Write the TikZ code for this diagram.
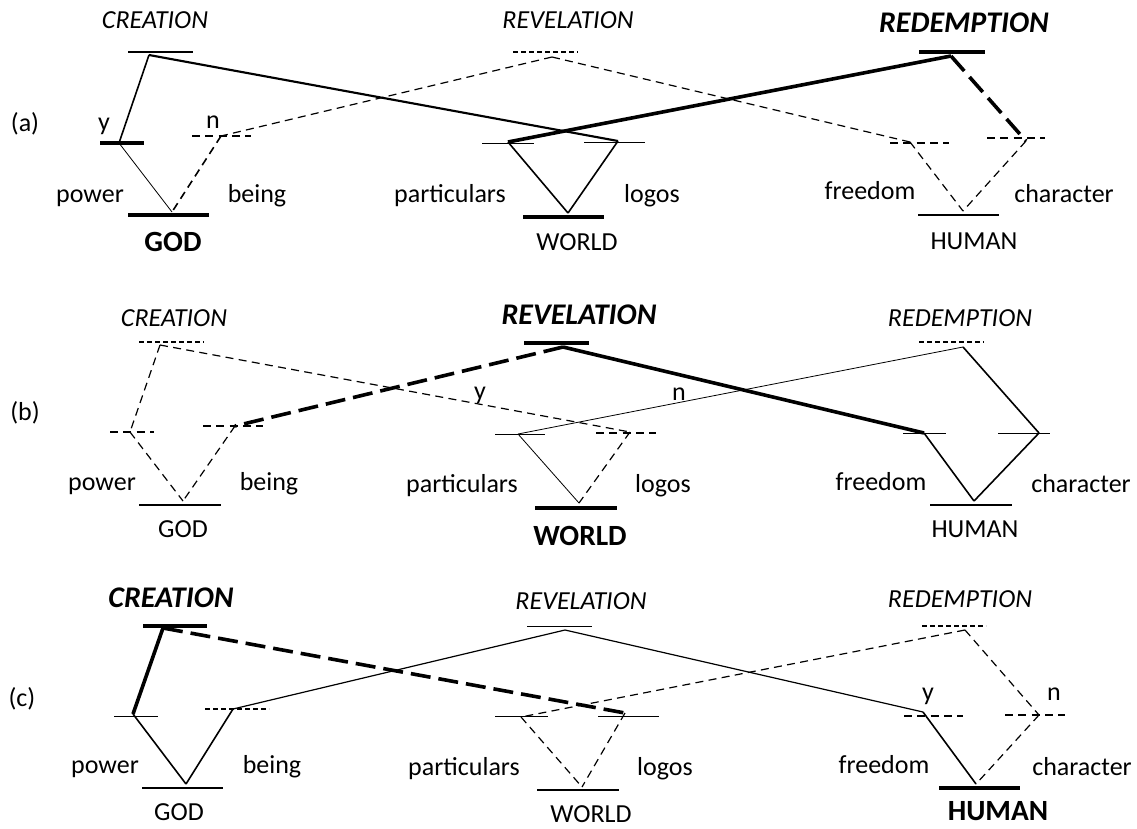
\documentclass[tikz,border=0pt]{standalone}
\usepackage{fontspec}
\setmainfont{Carlito}
\begin{document}
\fontsize{19.5}{23}\selectfont
\begin{tikzpicture}[x=0.75pt,y=0.75pt,yscale=-1,xscale=1,
  thinln/.style={line width=0.6pt},
  medln/.style={line width=1.2pt},
  thkln/.style={line width=2.7pt},
  dsh/.style={line width=0.9pt,dash pattern=on 6pt off 4pt},
  sdsh/.style={line width=0.9pt,dash pattern=on 3.5pt off 2.5pt},
  ldsh/.style={dash pattern=on 15pt off 6pt},
  lbl/.style={anchor=base,inner sep=0pt},
  toplbl/.style={lbl,font=\itshape},
  focuslbl/.style={lbl,font=\fontsize{22.5}{27}\selectfont\bfseries\itshape},
  boldlbl/.style={lbl,font=\fontsize{22}{26}\selectfont\bfseries}]
\useasboundingbox (0,0) rectangle (1137,828);

%%%%%%%%%%%%%%%%%%%%%%%% (a)
\coordinate (aCre) at (149,55);
\coordinate (aPow) at (119,143);
\coordinate (aBei) at (221,136);
\coordinate (aGod) at (172,212);
\coordinate (aRev) at (552,57);
\coordinate (aPar) at (508,142);
\coordinate (aLog) at (618,141);
\coordinate (aWor) at (568,213);
\coordinate (aRed) at (951,56);
\coordinate (aFre) at (910,142);
\coordinate (aCha) at (1026,141);
\coordinate (aHum) at (963,211);

%Straight Lines (bars)
\draw [medln] (aCre) ++(-21,-3) -- ++(65,0);
\draw [thkln] (aPow) ++(-19,0) -- ++(44,0);
\draw [dsh] (aBei) ++(-29,0) -- ++(59,0);
\draw [thkln] (aGod) ++(-44,3) -- ++(81,0);
\draw [sdsh] (aRev) ++(-39,-5) -- ++(65,0);
\draw [thinln] (aPar) ++(-26,1) -- ++(52,0);
\draw [thinln] (aLog) ++(-34,1.5) -- ++(61,0);
\draw [thkln] (aWor) ++(-45,4) -- ++(81,0);
\draw [thkln] (aRed) ++(-32,-4) -- ++(66,0);
\draw [dsh] (aFre) ++(-20,1) -- ++(59,0);
\draw [dsh] (aCha) ++(-39,-3) -- ++(58,0);
\draw [medln] (aHum) ++(-45,4) -- ++(81,0);

%Straight Lines (links)
\draw [medln] (aCre) -- (aPow);
\draw [medln,line width=1.6pt] (aCre) -- (aLog);
\draw [thinln] (aPow) -- (aGod);
\draw [dsh,line width=1.2pt] (aBei) -- (aGod);
\draw [dsh] (aRev) -- (aBei);
\draw [dsh] (aRev) -- (aFre);
\draw [medln] (aPar) -- (aWor);
\draw [medln] (aLog) -- (aWor);
\draw [thkln] (aRed) -- (aPar);
\draw [thkln,ldsh] (aRed) -- (aCha);
\draw [dsh] (aFre) -- (aHum);
\draw [dsh] (aCha) -- (aHum);

% Text Node
\node [lbl] (aTag) at (25,131) {(a)};
\node [toplbl] (aCreL) at (155,28) {CREATION};
\node [toplbl] (aRevL) at (568,28) {REVELATION};
\node [focuslbl] (aRedL) at (964,32) {REDEMPTION};
\node [lbl] (aYes) at (104,130) {y};
\node [lbl] (aNo) at (213,128) {n};
\node [lbl] (aPowL) at (90,202) {power};
\node [lbl] (aBeiL) at (257,202) {being};
\node [boldlbl] (aGodL) at (173,251) {GOD};
\node [lbl] (aParL) at (450,202) {particulars};
\node [lbl] (aLogL) at (652,202) {logos};
\node [lbl] (aWorL) at (577,250) {WORLD};
\node [lbl] (aFreL) at (870,199) {freedom};
\node [lbl] (aChaL) at (1064,202) {character};
\node [lbl] (aHumL) at (974,249) {HUMAN};

%%%%%%%%%%%%%%%%%%%%%%%% (b)
\coordinate (bCre) at (160,345);
\coordinate (bPow) at (130,432);
\coordinate (bBei) at (235,426);
\coordinate (bGod) at (183,501);
\coordinate (bRev) at (563,347);
\coordinate (bPar) at (518,434);
\coordinate (bLog) at (630,432);
\coordinate (bWor) at (579,503);
\coordinate (bRed) at (963,347);
\coordinate (bFre) at (924,433);
\coordinate (bCha) at (1039,433);
\coordinate (bHum) at (974,501);

%Straight Lines (bars)
\draw [sdsh] (bCre) ++(-21,-3) -- ++(65,0);
\draw [dsh] (bPow) ++(-20,0) -- ++(44,0);
\draw [dsh] (bBei) ++(-32,0) -- ++(60,0);
\draw [medln] (bGod) ++(-44,4) -- ++(82,0);
\draw [thkln] (bRev) ++(-39,-4) -- ++(65,0);
\draw [thinln] (bPar) ++(-23,0) -- ++(50,0);
\draw [dsh] (bLog) ++(-34,1) -- ++(60,0);
\draw [thkln] (bWor) ++(-44,5) -- ++(82,0);
\draw [sdsh] (bRed) ++(-44,-5) -- ++(65,0);
\draw [thinln] (bFre) ++(-21,0) -- ++(43,0);
\draw [thinln] (bCha) ++(-41,0) -- ++(52,0);
\draw [medln] (bHum) ++(-44,4) -- ++(82,0);

%Straight Lines (links)
\draw [dsh] (bCre) -- (bPow);
\draw [dsh] (bCre) -- (bLog);
\draw [dsh] (bPow) -- (bGod);
\draw [dsh] (bBei) -- (bGod);
\draw [thkln,ldsh] (bRev) -- (bBei);
\draw [thkln] (bRev) -- (bFre);
\draw [thinln] (bPar) -- (bWor);
\draw [dsh] (bLog) -- (bWor);
\draw [thinln] (bRed) -- (bPar);
\draw [medln] (bRed) -- (bCha);
\draw [medln] (bFre) -- (bHum);
\draw [medln] (bCha) -- (bHum);

% Text Node
\node [lbl] (bTag) at (25,420) {(b)};
\node [toplbl] (bCreL) at (174,326) {CREATION};
\node [focuslbl] (bRevL) at (579,324) {REVELATION};
\node [toplbl] (bRedL) at (960,326) {REDEMPTION};
\node [lbl] (bYes) at (480,399) {y};
\node [lbl] (bNo) at (679,400) {n};
\node [lbl] (bPowL) at (102,490) {power};
\node [lbl] (bBeiL) at (269,490) {being};
\node [lbl] (bGodL) at (183,537) {GOD};
\node [lbl] (bParL) at (462,492) {particulars};
\node [lbl] (bLogL) at (663,492) {logos};
\node [boldlbl] (bWorL) at (580,545) {WORLD};
\node [lbl] (bFreL) at (881,490) {freedom};
\node [lbl] (bChaL) at (1081,492) {character};
\node [lbl] (bHumL) at (975,537) {HUMAN};

%%%%%%%%%%%%%%%%%%%%%%%% (c)
\coordinate (cCre) at (163,628);
\coordinate (cPow) at (133,714);
\coordinate (cBei) at (233,709);
\coordinate (cGod) at (186,784);
\coordinate (cRev) at (565,630);
\coordinate (cPar) at (521,717);
\coordinate (cLog) at (625,713);
\coordinate (cWor) at (582,787);
\coordinate (cRed) at (965,630);
\coordinate (cFre) at (923,712);
\coordinate (cCha) at (1039,715);
\coordinate (cHum) at (976,784);

%Straight Lines (bars)
\draw [thkln] (cCre) ++(-20,-2) -- ++(64,0);
\draw [thinln] (cPow) ++(-19,2) -- ++(44,0);
\draw [sdsh] (cBei) ++(-28,0) -- ++(64,0);
\draw [medln] (cGod) ++(-44,4) -- ++(81,0);
\draw [thinln] (cRev) ++(-38,-4) -- ++(65,0);
\draw [thinln] (cPar) ++(-26,-1) -- ++(53,0);
\draw [thinln] (cLog) ++(-27,3) -- ++(61,0);
\draw [medln] (cWor) ++(-45,3) -- ++(82,0);
\draw [sdsh] (cRed) ++(-43,-4) -- ++(64,0);
\draw [dsh] (cFre) ++(-19,4) -- ++(59,0);
\draw [dsh] (cCha) ++(-34,0) -- ++(60,0);
\draw [thkln] (cHum) ++(-37,4) -- ++(81,0);

%Straight Lines (links)
\draw [thkln] (cCre) -- (cPow);
\draw [thkln,ldsh] (cCre) -- (cLog);
\draw [medln] (cPow) -- (cGod);
\draw [medln] (cBei) -- (cGod);
\draw [thinln,line width=0.9pt] (cRev) -- (cBei);
\draw [thinln,line width=0.9pt] (cRev) -- (cFre);
\draw [dsh] (cPar) -- (cWor);
\draw [dsh] (cLog) -- (cWor);
\draw [dsh] (cRed) -- (cPar);
\draw [dsh] (cRed) -- (cCha);
\draw [medln] (cFre) -- (cHum);
\draw [dsh] (cCha) -- (cHum);

% Text Node
\node [lbl] (cTag) at (22,706) {(c)};
\node [focuslbl] (cCreL) at (171,607) {CREATION};
\node [toplbl] (cRevL) at (581,609) {REVELATION};
\node [toplbl] (cRedL) at (960,607) {REDEMPTION};
\node [lbl] (cYes) at (928,700) {y};
\node [lbl] (cNo) at (1054,700) {n};
\node [lbl] (cPowL) at (105,773) {power};
\node [lbl] (cBeiL) at (272,773) {being};
\node [lbl] (cGodL) at (179,820) {GOD};
\node [lbl] (cParL) at (464,775) {particulars};
\node [lbl] (cLogL) at (665,775) {logos};
\node [lbl] (cWorL) at (591,822) {WORLD};
\node [lbl] (cFreL) at (884,773) {freedom};
\node [lbl] (cChaL) at (1082,775) {character};
\node [boldlbl] (cHumL) at (998,820) {HUMAN};

\end{tikzpicture}
\end{document}
